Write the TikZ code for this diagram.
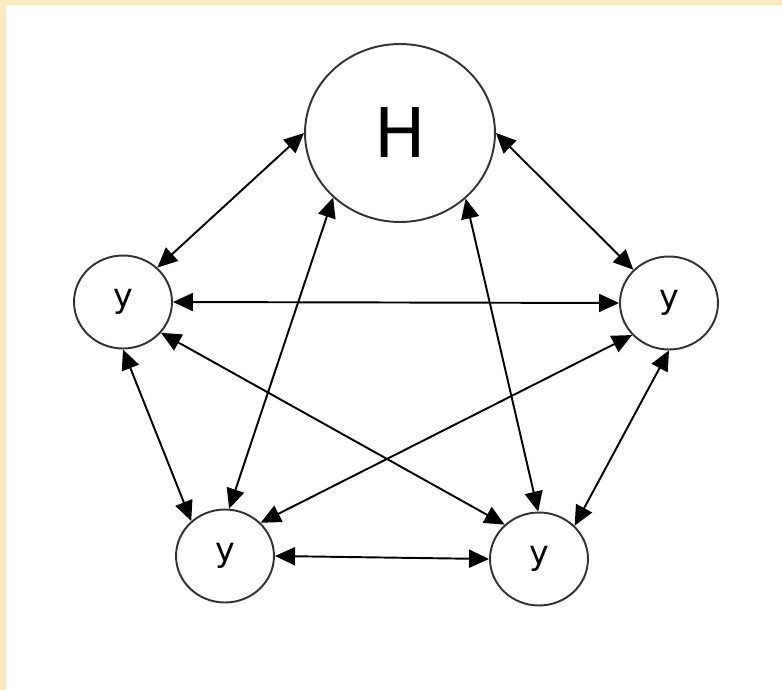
\documentclass[tikz,border=0pt]{standalone}
\usepackage{fontspec}
\setmainfont{DejaVu Sans}
\usetikzlibrary{shapes.geometric,arrows.meta}
\definecolor{parchment}{RGB}{250,235,190}
\begin{document}
\begin{tikzpicture}[x=0.02cm,y=-0.02cm,
  vert/.style={draw=black!80,line width=1.1pt,ellipse,inner sep=0pt,
    minimum width=1.96cm,minimum height=1.86cm,font=\fontsize{19}{19}\selectfont},
  big/.style={minimum width=3.8cm,minimum height=3.56cm,font=\fontsize{39}{39}\selectfont},
  link/.style={line width=1.1pt,{Triangle[length=0.4cm,width=0.36cm]}-{Triangle[length=0.4cm,width=0.36cm]}}]
  \fill[parchment] (0,0) rectangle (782,690);
  \fill[white] (6,5) rectangle (782,690);
  \node[vert,big] (h) at (400,133) {H};
  \node[vert] (l) at (123,302) {y};
  \node[vert] (r) at (669,303) {y};
  \node[vert] (bl) at (225,556) {y};
  \node[vert] (br) at (539,559) {y};
  \draw[link] (h.180) -- (l.45);
  \draw[link] (h.224) -- (bl.85);
  \draw[link] (h.0) -- (r.137);
  \draw[link] (h.315) -- (br.91);
  \draw[link] (l.0) -- (r.180);
  \draw[link] (l.270) -- (bl.134);
  \draw[link] (l.321) -- (br.135);
  \draw[link] (r.221) -- (bl.43);
  \draw[link] (r.270) -- (br.43);
  \draw[link] (bl.0) -- (br.180);
\end{tikzpicture}
\end{document}
